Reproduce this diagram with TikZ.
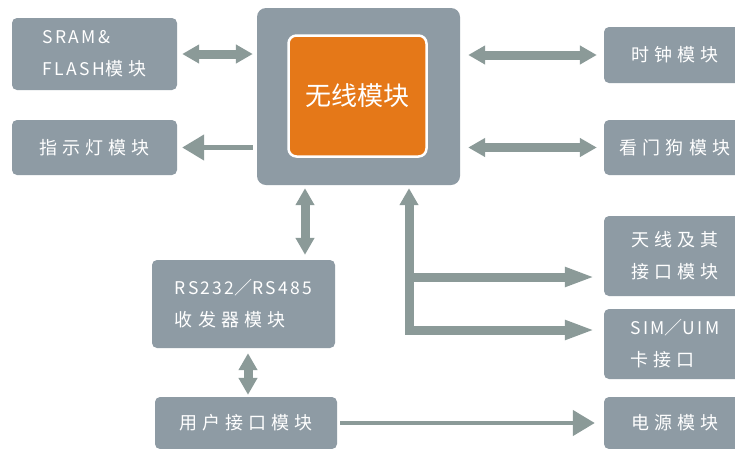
\documentclass[tikz,border=0pt]{standalone}
\usepackage{fontspec}
\setmainfont{Noto Sans CJK SC}
\newfontfamily\cjk{Noto Sans CJK SC}[LetterSpace=28]
\newfontfamily\lat{Noto Sans CJK SC}[LetterSpace=13]
\newcommand\la[1]{{\lat\fontsize{17.5}{32}\selectfont #1}}
\usetikzlibrary{arrows.meta}
\definecolor{boxgray}{HTML}{8E9BA4}
\definecolor{arrgray}{HTML}{8B9A98}
\definecolor{orng}{HTML}{E57818}
\tikzset{
  blk/.style={fill=boxgray, rounded corners=5pt, text=white, align=left,
    inner sep=0pt, font=\cjk\fontsize{18}{32}\selectfont},
  fat/.style={draw=arrgray, line width=9pt, line join=miter},
  thinarr/.style={draw=arrgray, line width=4.5pt},
  fh/.tip={Triangle[width=18pt,length=17pt]},
  lh/.tip={Triangle[width=18pt,length=30pt]},
  th/.tip={Triangle[width=25pt,length=22pt]},
}
\begin{document}
\begin{tikzpicture}[x=1pt,y=-1pt]
\useasboundingbox (0,0) rectangle (735,448);
\clip (0,0) rectangle (735,448);
\fill[white] (0,0) rectangle (735,448);

% nodes
\node[blk, minimum width=165pt, minimum height=72pt] (sram) at (94.5,54) {\la{SRAM\&}\\\la{FLASH}模块};
\node[blk, minimum width=165pt, minimum height=55pt] (ind) at (94.5,147.5) {指示灯模块};
\node[fill=boxgray, rounded corners=9pt, minimum width=203pt, minimum height=177pt, inner sep=0pt] (central) at (358.5,96.5) {};
\node[fill=orng, draw=white, line width=2.5pt, rounded corners=8pt, minimum width=138pt, minimum height=121pt, inner sep=0pt, text=white, font=\fontsize{26}{30}\selectfont] (core) at (357.5,96) {无线模块};
\node[blk, minimum width=142pt, minimum height=56pt] (clock) at (675,55) {时钟模块};
\node[blk, minimum width=142pt, minimum height=55pt] (dog) at (675,147.5) {看门狗模块};
\node[blk, minimum width=142pt, minimum height=80pt] (ant) at (675,256) {天线及其\\接口模块};
\node[blk, minimum width=142pt, minimum height=70pt] (sim) at (675,344) {\la{SIM}／\la{UIM}\\卡接口};
\node[blk, minimum width=142pt, minimum height=52pt] (pwr) at (675,423) {电源模块};
\node[blk, minimum width=183pt, minimum height=88pt] (rs) at (243.5,304) {\la{RS232}／\la{RS485}\\收发器模块};
\node[blk, minimum width=182pt, minimum height=52pt] (user) at (246,423) {用户接口模块};

% helper coordinates
\coordinate (vx) at (305,0);
\coordinate (vx2) at (248,0);
\coordinate (ax) at (409,0);
\coordinate (br1) at (409,277);
\coordinate (br2) at (409,330);

% connectors
\draw[fat, {fh}-{fh}, shorten <=5pt, shorten >=4pt] (sram.east) -- (sram.east -| central.west);
\draw[thinarr, -{th}, shorten <=4pt, shorten >=5pt] (ind.east -| central.west) -- (ind.east);
\draw[fat, {fh}-{fh}, shorten <=8pt, shorten >=7pt] (clock.west -| central.east) -- (clock.west);
\draw[fat, {fh}-{fh}, shorten <=8pt, shorten >=7pt] (dog.west -| central.east) -- (dog.west);
\draw[fat, {fh}-{fh}, shorten <=3pt, shorten >=5pt] (vx |- central.south) -- (vx |- rs.north);
\draw[fat, {fh}-{fh}, shorten <=5pt, shorten >=2pt] (vx2 |- rs.south) -- (vx2 |- user.north);
\draw[fat, {fh}-{lh}, shorten <=3pt, shorten >=9pt] (ax |- central.south) -- (br2) -- (br2 -| sim.west);
\draw[fat, -{lh}, shorten >=9pt] (br1) -- (br1 -| ant.west);
\draw[thinarr, -{th}, shorten <=3pt, shorten >=9pt] (user.east) -- (user.east -| pwr.west);
\end{tikzpicture}
\end{document}
